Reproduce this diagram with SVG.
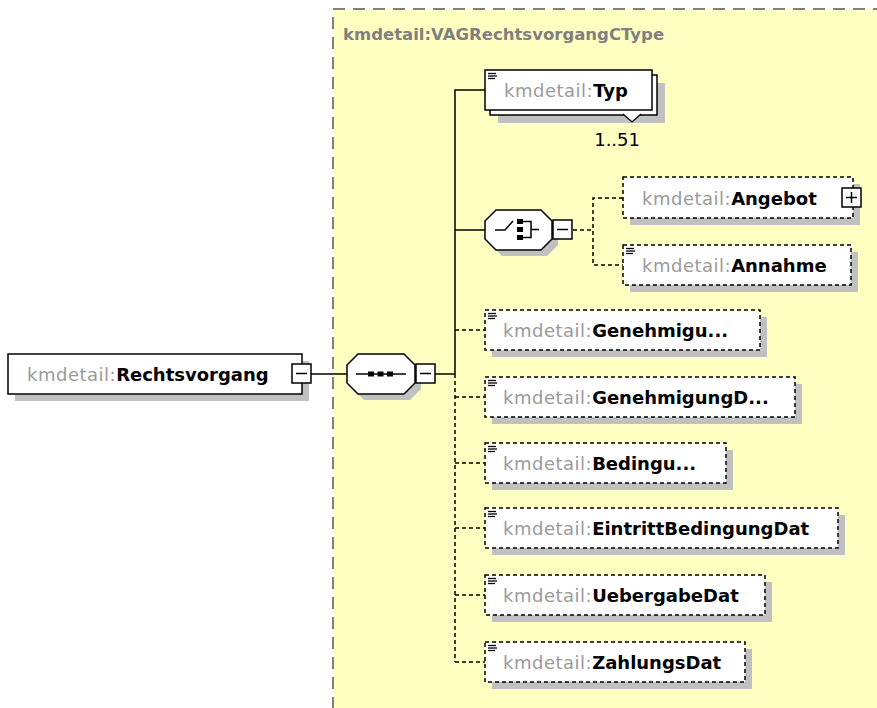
<svg xmlns="http://www.w3.org/2000/svg" width="877" height="708" viewBox="0 0 877 708">
<style>
.t{font-family:"DejaVu Sans","Liberation Sans",sans-serif;font-size:18px}
.p{fill:#9a9a9a;letter-spacing:0.5px}
.n{fill:#000;font-weight:bold}
.sh{fill:#c0c0c0}
.box{fill:#fff;stroke:#000;stroke-width:1.5}
.dbox{fill:#fff;stroke:#000;stroke-width:1.5;stroke-dasharray:4 3}
.ln{fill:none;stroke:#000;stroke-width:1.5}
.dl{fill:none;stroke:#000;stroke-width:1.5;stroke-dasharray:4 3}
.ic{stroke:#000;stroke-width:1.3}
</style>
<defs>
<g id="doc"><line class="ic" x1="0" y1="0.5" x2="8" y2="0.5"/><line class="ic" x1="0" y1="3" x2="9" y2="3"/><line class="ic" x1="0" y1="5.5" x2="7" y2="5.5"/></g>
<g id="minus"><rect x="0" y="0" width="19" height="19" class="box"/><line class="ln" x1="4" y1="9.5" x2="15" y2="9.5"/></g>
</defs>
<rect id="complexType" x="333" y="9" width="620" height="760" fill="#ffffc2" stroke="#808080" stroke-width="2" stroke-dasharray="12 8"/>
<text x="343" y="40" style="font-family:'DejaVu Sans','Liberation Sans',sans-serif;font-size:16.5px;font-weight:bold;fill:#808080">kmdetail:VAGRechtsvorgangCType</text>

<g id="connectors">
<line class="ln" x1="311" y1="374" x2="347" y2="374"/>
<line class="ln" x1="435" y1="374" x2="455" y2="374"/>
<polyline class="ln" points="485,90 455,90 455,374"/>
<line class="ln" x1="455" y1="230" x2="485" y2="230"/>
<line class="dl" x1="455" y1="374" x2="455" y2="662"/>
<line class="dl" x1="455" y1="330" x2="485" y2="330"/>
<line class="dl" x1="455" y1="397" x2="485" y2="397"/>
<line class="dl" x1="455" y1="463" x2="485" y2="463"/>
<line class="dl" x1="455" y1="528" x2="485" y2="528"/>
<line class="dl" x1="455" y1="595" x2="485" y2="595"/>
<line class="dl" x1="455" y1="662" x2="485" y2="662"/>
<line class="dl" x1="573" y1="230" x2="593" y2="230"/>
<polyline class="dl" points="623,198 593,198 593,265 623,265"/>
</g>

<g id="Rechtsvorgang">
<rect class="sh" x="15" y="361" width="294" height="40"/>
<rect class="box" x="8" y="354" width="294" height="40"/>
<text class="t" x="27" y="381"><tspan class="p">kmdetail:</tspan><tspan class="n">Rechtsvorgang</tspan></text>
<use href="#minus" x="292" y="364"/>
</g>

<g id="sequence">
<polygon class="sh" points="364,360 410,360 421,371 421,389 410,400 364,400 353,389 353,371"/>
<polygon class="box" points="358,354 404,354 415,365 415,383 404,394 358,394 347,383 347,365"/>
<line class="ln" x1="356" y1="374" x2="406" y2="374"/>
<rect x="368" y="371.5" width="6" height="5"/>
<rect x="377.5" y="371.5" width="6" height="5"/>
<rect x="387" y="371.5" width="6" height="5"/>
<use href="#minus" x="416" y="364"/>
</g>

<g id="Typ">
<rect class="sh" x="498" y="83" width="167" height="40"/>
<rect class="box" x="490" y="75" width="167" height="40"/>
<rect class="box" x="485" y="70" width="167" height="40"/>
<polyline points="623,114 632,122 641,114" fill="#fff" stroke="#000" stroke-width="1.3"/>
<use href="#doc" x="488" y="73"/>
<text class="t" x="504" y="97"><tspan class="p">kmdetail:</tspan><tspan class="n">Typ</tspan></text>
<text class="t" x="640" y="146" text-anchor="end" fill="#000">1..51</text>
</g>

<g id="choice">
<polygon class="sh" points="502,216 547,216 558,227 558,245 547,256 502,256 491,245 491,227"/>
<polygon class="box" points="496,210 541,210 552,221 552,239 541,250 496,250 485,239 485,221"/>
<path class="ln" d="M495 230 H505 L513 221"/>
<rect x="517" y="219" width="6" height="5"/>
<rect x="517" y="227" width="6" height="5"/>
<rect x="517" y="235" width="6" height="5"/>
<path class="ln" d="M523 221.5 H531 V237.5 H523 M531 229.5 H539"/>
<use href="#minus" x="553" y="220"/>
</g>

<g id="Angebot">
<rect class="sh" x="630" y="184" width="230" height="41"/>
<rect class="dbox" x="623" y="177" width="230" height="41"/>
<text class="t" x="642" y="205"><tspan class="p">kmdetail:</tspan><tspan class="n">Angebot</tspan></text>
<rect class="box" x="842" y="188" width="19" height="19"/>
<path class="ln" d="M846 197.5 H857 M851.5 192 V203"/>
</g>

<g id="Annahme">
<rect class="sh" x="630" y="252" width="228" height="40"/>
<rect class="dbox" x="623" y="245" width="228" height="40"/>
<use href="#doc" x="626" y="248"/>
<text class="t" x="642" y="272"><tspan class="p">kmdetail:</tspan><tspan class="n">Annahme</tspan></text>
</g>

<g id="Genehmigu">
<rect class="sh" x="492" y="317" width="275" height="40"/>
<rect class="dbox" x="485" y="310" width="275" height="40"/>
<use href="#doc" x="488" y="313"/>
<text class="t" x="503" y="337"><tspan class="p">kmdetail:</tspan><tspan class="n">Genehmigu...</tspan></text>
</g>

<g id="GenehmigungD">
<rect class="sh" x="492" y="384" width="310" height="40"/>
<rect class="dbox" x="485" y="377" width="310" height="40"/>
<use href="#doc" x="488" y="380"/>
<text class="t" x="503" y="404"><tspan class="p">kmdetail:</tspan><tspan class="n">GenehmigungD...</tspan></text>
</g>

<g id="Bedingu">
<rect class="sh" x="492" y="450" width="241" height="40"/>
<rect class="dbox" x="485" y="443" width="241" height="40"/>
<use href="#doc" x="488" y="446"/>
<text class="t" x="503" y="470"><tspan class="p">kmdetail:</tspan><tspan class="n">Bedingu...</tspan></text>
</g>

<g id="EintrittBedingungDat">
<rect class="sh" x="492" y="515" width="353" height="40"/>
<rect class="dbox" x="485" y="508" width="353" height="40"/>
<use href="#doc" x="488" y="511"/>
<text class="t" x="503" y="535"><tspan class="p">kmdetail:</tspan><tspan class="n">EintrittBedingungDat</tspan></text>
</g>

<g id="UebergabeDat">
<rect class="sh" x="492" y="582" width="280" height="40"/>
<rect class="dbox" x="485" y="575" width="280" height="40"/>
<use href="#doc" x="488" y="578"/>
<text class="t" x="503" y="602"><tspan class="p">kmdetail:</tspan><tspan class="n">UebergabeDat</tspan></text>
</g>

<g id="ZahlungsDat">
<rect class="sh" x="492" y="649" width="260" height="40"/>
<rect class="dbox" x="485" y="642" width="260" height="40"/>
<use href="#doc" x="488" y="645"/>
<text class="t" x="503" y="669"><tspan class="p">kmdetail:</tspan><tspan class="n">ZahlungsDat</tspan></text>
</g>
</svg>
